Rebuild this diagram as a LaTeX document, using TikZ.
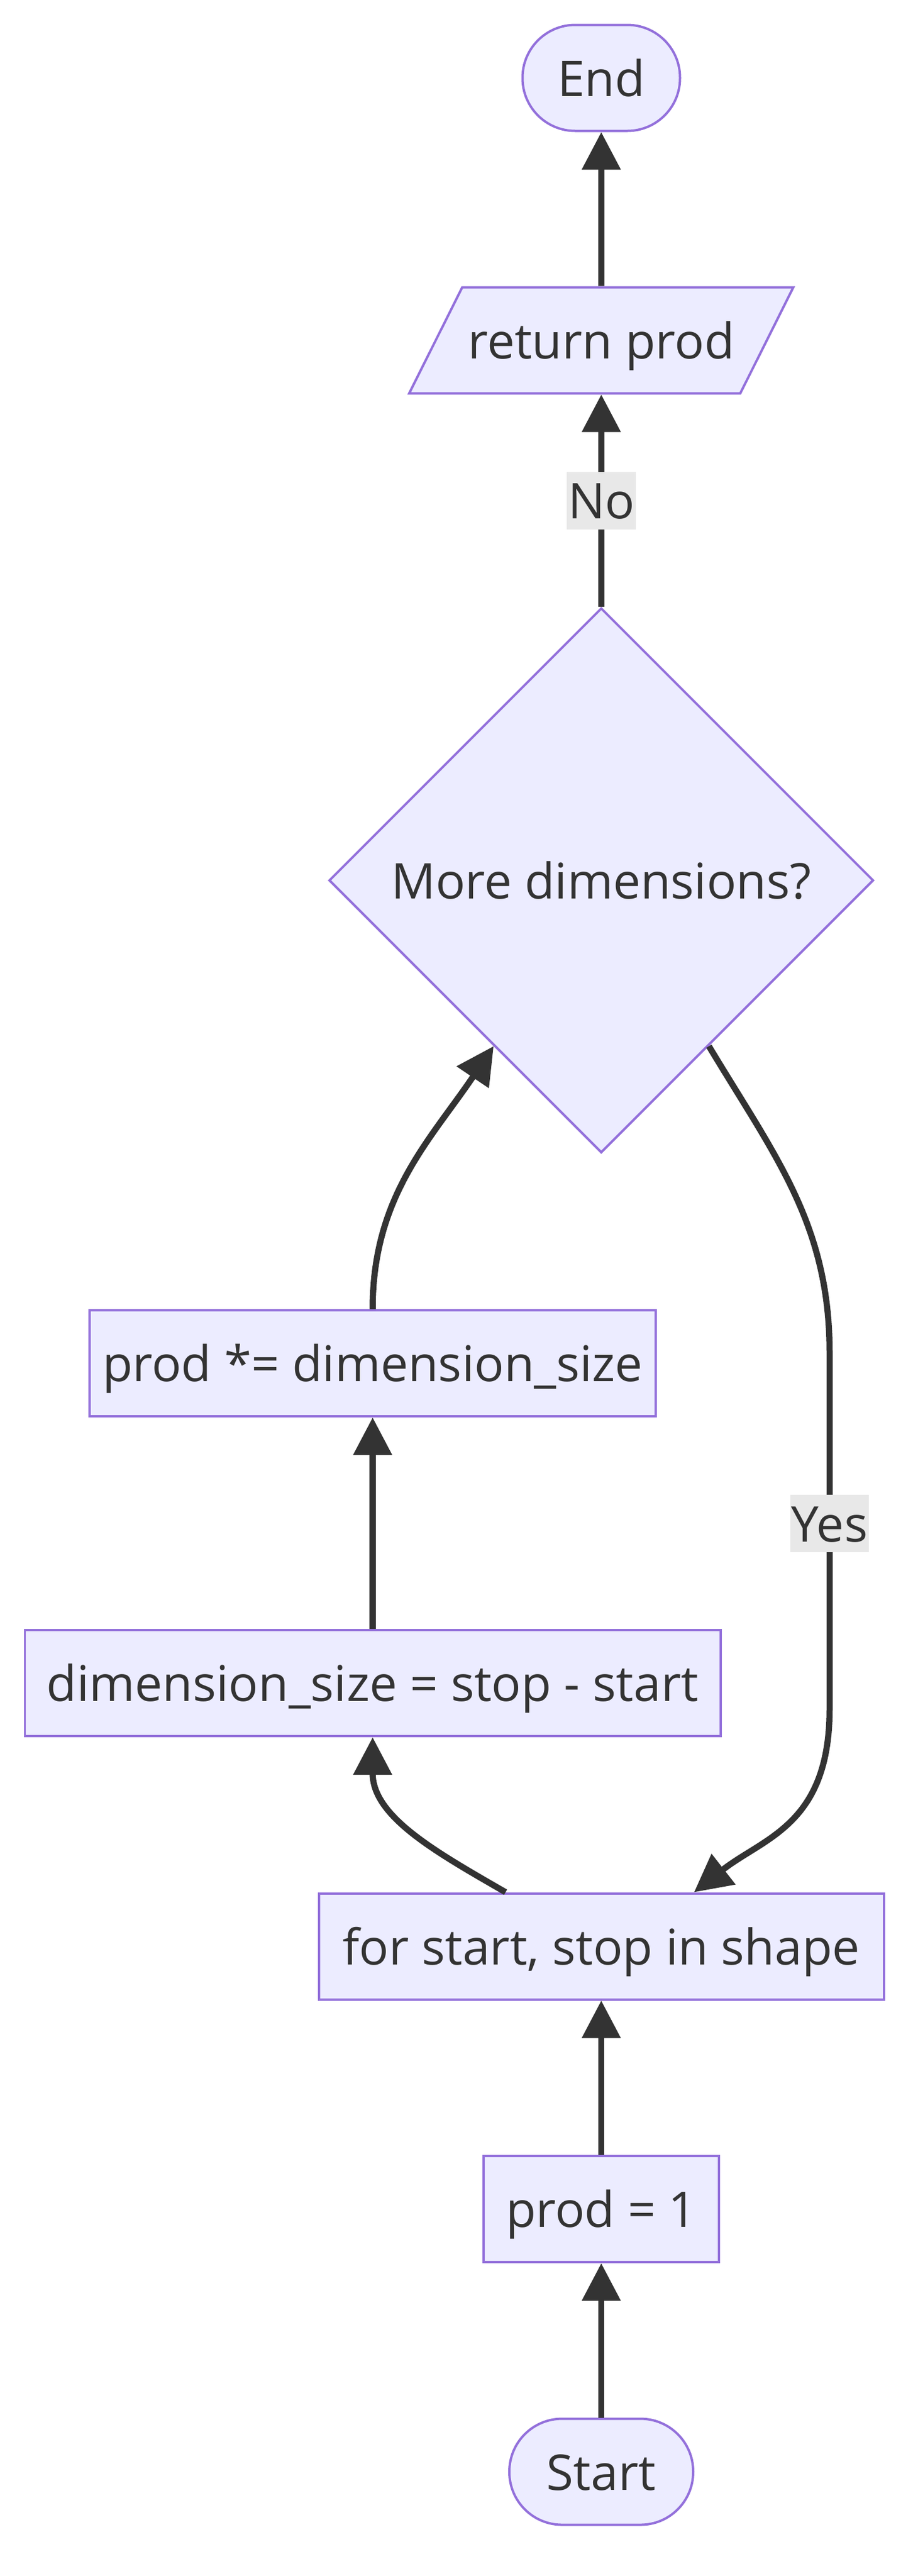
\documentclass[tikz,border=0pt]{standalone}
\usepackage{fontspec}
\setmainfont{Open Sans}
\usetikzlibrary{positioning,arrows.meta,shapes.geometric}
\definecolor{nodefill}{HTML}{ECECFF}
\definecolor{nodeline}{HTML}{9370DB}
\definecolor{edgeline}{HTML}{333333}
\definecolor{labelfill}{HTML}{E8E8E8}
\tikzset{
    on grid,
    node distance=4.49cm,
    block/.style = {
        draw=nodeline,
        fill=nodefill,
        shape=rectangle,
        minimum height=1.81cm,
        line width=0.04cm,
        text=edgeline,
        font=\fontsize{23.9pt}{28pt}\selectfont,
        text height=0.62cm,
        text depth=0pt
    },
    terminal/.style = {
        block,
        rounded corners=0.9cm
    },
    decision/.style = {
        block,
        shape=diamond,
        aspect=1,
        inner sep=0pt,
        minimum width=9.3cm,
        minimum height=9.3cm
    },
    io/.style = {
        block,
        shape=trapezium,
        trapezium left angle=63.4,
        trapezium right angle=116.6,
        trapezium stretches body=true,
        minimum height=0pt,
        inner ysep=0.595cm,
        inner xsep=0.1cm,
        minimum width=6.45cm
    },
    edgelabel/.style = {
        fill=labelfill,
        text=edgeline,
        inner xsep=0.02cm,
        inner ysep=0pt,
        minimum height=0.98cm,
        font=\fontsize{23.9pt}{28pt}\selectfont,
        text height=0.62cm,
        text depth=0pt
    },
    flow/.style = {
        draw=edgeline,
        line width=0.105cm
    },
    >={Triangle[length=0.64cm,width=0.64cm]},
}

\begin{document}
\begin{tikzpicture}
        \useasboundingbox (0,0) rectangle (15.68,-43.98);

        \node[terminal, minimum width=3.14cm] (start) at (10.27,-42.20) {Start};
        \node[block, minimum width=4.02cm, above=4.485cm of start] (init) {prod = 1};
        \node[block, minimum width=9.65cm, above=4.485cm of init] (loop) {for start, stop in shape};
        \node[block, minimum width=11.88cm, above left=4.495cm and 3.905cm of loop] (dimsize) {dimension\_size = stop - start};
        \node[block, minimum width=9.67cm, above=5.46cm of dimsize] (prodmul) {prod *= dimension\_size};
        \node[decision, above=18.2cm of loop] (cond) {More dimensions?};
        \node[io, above=9.22cm of cond] (ret) {return prod};
        \node[terminal, minimum width=2.69cm, above=4.48cm of ret] (finish) {End};

        \coordinate[below right=8.07cm and 3.9cm of cond] (yestop);
        \coordinate[below=6.07cm of yestop] (yesbottom);

        \path[draw, flow, ->] (start) -- (init);
        \path[draw, flow, ->] (init) -- (loop);
        \path[draw, flow, ->] ([xshift=-1.635cm]loop.north) to[out=150, in=-90] (dimsize.south);
        \path[draw, flow, ->] (dimsize) -- (prodmul);
        \path[draw, flow, ->] (prodmul.north) to[out=90, in=-124] (cond.-123);
        \path[draw, flow, ->] (cond.-57) to[out=-59, in=90] (yestop)
            -- node [pos=0.48, edgelabel] {Yes} (yesbottom)
            to[out=-90, in=38, out looseness=1.3] ([xshift=1.585cm]loop.north);
        \path[draw, flow, ->] (cond) -- node [midway, edgelabel] {No} (ret);
        \path[draw, flow, ->] (ret) -- (finish);
    \end{tikzpicture}
\end{document}
